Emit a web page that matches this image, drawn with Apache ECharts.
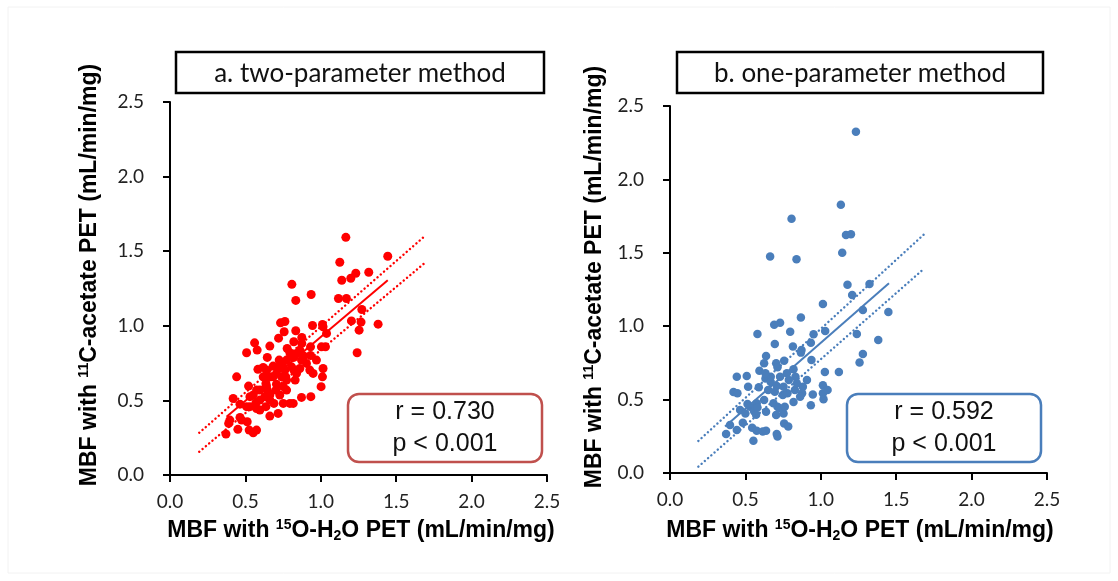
<!DOCTYPE html>
<html><head><meta charset="utf-8">
<script src="https://cdn.jsdelivr.net/npm/echarts@6/dist/echarts.min.js"></script>
<style>html,body{margin:0;padding:0;background:#fff}#c{width:1118px;height:581px}</style>
</head><body><div id="c"></div>
<script>
// ---- data (mL/min/mg) ----
const tickLabels = ['0.0','0.5','1.0','1.5','2.0','2.5'];
const titles = ['a. two-parameter method','b. one-parameter method'];
const stats = [['r = 0.730','p < 0.001'],['r = 0.592','p < 0.001']];

const twoParamX = [1.166,1.126,1.444,1.139,1.199,1.232,1.318,0.808,
0.936,0.834,1.117,1.170,1.272,1.203,1.267,1.380,0.945,1.011,0.733,0.762,0.757,0.834,0.720,0.561,0.662,0.578,0.508,0.821,0.874,0.874,1.015,1.038,1.031,1.004,0.932,1.241,1.254,0.777,0.795,0.839,0.645,0.724,0.773,0.618,0.583,0.684,0.746,0.821,0.887,0.861,0.927,0.949,1.015,1.011,1.002,0.830,0.768,0.442,0.521,0.618,0.636,0.645,0.574,0.530,0.419,0.464,0.596,0.662,0.728,0.773,0.706,0.795,0.817,0.872,0.934,0.689,0.574,0.636,0.662,0.717,0.397,0.464,0.512,0.389,0.371,0.450,0.525,0.574,0.552,0.706,0.684,0.667,0.640,0.751,0.530,0.596,0.552,0.629,0.751,0.806,0.861,0.872,0.821,0.762,0.717,0.640,0.629,0.702,0.596,0.773,0.839,0.905,0.971,0.932,0.740,0.662,0.570,0.508,0.475];
const twoParamY = [1.593,1.426,1.466,1.305,1.319,1.352,1.359,1.278,
1.210,1.170,1.183,1.183,1.109,1.033,1.025,1.011,1.002,1.009,1.020,1.029,0.960,0.967,0.917,0.886,0.864,0.837,0.819,0.893,0.922,0.882,0.993,0.949,0.859,0.859,0.801,0.819,0.971,0.848,0.819,0.815,0.788,0.770,0.770,0.721,0.708,0.730,0.748,0.788,0.797,0.714,0.703,0.681,0.714,0.658,0.592,0.636,0.658,0.658,0.596,0.658,0.614,0.569,0.569,0.525,0.513,0.475,0.502,0.536,0.536,0.569,0.609,0.480,0.480,0.520,0.525,0.480,0.446,0.458,0.395,0.413,0.368,0.386,0.357,0.346,0.275,0.306,0.301,0.301,0.283,0.681,0.658,0.658,0.596,0.592,0.458,0.435,0.536,0.525,0.480,0.725,0.837,0.770,0.703,0.703,0.721,0.703,0.658,0.569,0.569,0.636,0.681,0.748,0.770,0.859,0.658,0.502,0.484,0.458,0.368];

const oneParamX = [1.233,1.133,0.806,1.167,1.200,0.664,0.839,1.142,1.177,1.323,
1.208,1.014,1.279,1.448,0.868,0.730,0.691,0.580,0.797,0.952,1.029,1.239,1.381,0.695,0.815,0.934,0.872,0.868,1.279,1.257,0.938,0.637,0.624,0.704,0.713,0.757,0.819,0.832,1.027,1.120,0.443,0.509,0.593,0.633,0.668,0.708,0.753,0.788,0.881,0.876,0.947,1.014,1.014,1.045,1.018,0.421,0.447,0.518,0.589,0.651,0.695,0.748,0.779,0.819,0.686,0.713,0.624,0.575,0.531,0.465,0.500,0.558,0.580,0.514,0.934,0.753,0.726,0.398,0.372,0.443,0.483,0.545,0.575,0.615,0.637,0.553,0.708,0.713,0.757,0.784,0.571,0.637,0.704,0.761,0.828,0.841,0.668,0.633,0.730,0.775,0.863,0.908];
const oneParamY = [2.325,1.828,1.732,1.621,1.626,1.474,1.456,1.501,1.283,1.287,
1.213,1.151,1.110,1.097,1.060,1.024,1.010,0.947,0.963,0.945,0.967,0.947,0.906,0.879,0.861,0.888,0.838,0.820,0.811,0.752,0.770,0.797,0.747,0.747,0.720,0.765,0.706,0.656,0.688,0.688,0.656,0.661,0.697,0.643,0.620,0.593,0.588,0.634,0.588,0.543,0.534,0.597,0.543,0.565,0.502,0.552,0.543,0.588,0.584,0.565,0.554,0.531,0.543,0.484,0.475,0.452,0.497,0.475,0.452,0.429,0.406,0.420,0.447,0.470,0.461,0.406,0.441,0.327,0.266,0.293,0.343,0.309,0.288,0.282,0.288,0.220,0.266,0.248,0.338,0.316,0.397,0.418,0.395,0.452,0.565,0.611,0.656,0.679,0.656,0.679,0.520,0.634];

// regression line and dotted bounds: [x, y] end points
const twoFit = [[0.375,0.390],[1.444,1.305]];
const twoUpper = [[0.194,0.283],[1.695,1.606]];
const twoLower = [[0.194,0.156],[1.695,1.426]];
const oneFit = [[0.365,0.316],[1.452,1.292]];
const oneUpper = [[0.188,0.218],[1.687,1.628]];
const oneLower = [[0.188,0.043],[1.687,1.394]];

const RED = '#FF0000', BLUE = '#4A7EBB';
const zip = (a,b) => a.map((v,i)=>[v,b[i]]);

const chart = echarts.init(document.getElementById('c'), null, {renderer:'canvas'});

function axis(gridIndex, isX){
  return {
    type:'value', gridIndex, min:0, max:2.5, interval:0.5,
    axisLine:{show:true, onZero:false, lineStyle:{color:'#000', width:2}},
    axisTick:{show:true, length:7, inside:false, lineStyle:{color:'#000', width:2}},
    splitLine:{show:false},
    axisLabel:{color:'#222', fontFamily:'Lato', fontSize:19, margin: isX?17:26,
      formatter: v => tickLabels[Math.round(v/0.5)]}
  };
}
function lineS(idx, data, color, dotted){
  return {type:'line', xAxisIndex:idx, yAxisIndex:idx, data, symbol:'none', silent:true,
    lineStyle:{color, width: dotted?2.4:2, type: dotted?[0.1,4.2]:'solid', cap: dotted?'round':'butt'}, z:3};
}
const richX = {
  b:{fontFamily:'Liberation Sans', fontWeight:'bold', fontSize:23, fill:'#000'},
  sup:{fontFamily:'Liberation Sans', fontWeight:'bold', fontSize:14, fill:'#000', padding:[0,0,11,0]},
  sub:{fontFamily:'Liberation Sans', fontWeight:'bold', fontSize:14, fill:'#000', padding:[10,0,0,0]}
};
const xTitle = '{b|MBF with }{sup|15}{b|O-H}{sub|2}{b|O PET (mL/min/mg)}';
const yTitle = '{b|MBF with }{sup|11}{b|C-acetate PET (mL/min/mg)}';

function txt(x,y,text,rot){
  return {type:'text', x, y, rotation: rot||0, silent:true,
    style:{text, rich:richX, align:'center', verticalAlign:'middle', fill:'#000'}};
}
function statBox(x,y,w,h,color,lines){
  return [
    {type:'rect', shape:{x,y,width:w,height:h,r:11}, style:{fill:'#fff', stroke:color, lineWidth:2.5}, z:10},
    {type:'text', x:x+w/2, y:y+h/2, z:11, style:{text:lines.join('\n'), align:'center', verticalAlign:'middle',
      fontFamily:'Liberation Sans', fontSize:25, lineHeight:32, fill:'#111'}}
  ];
}
function titleBox(x,y,w,h,label){
  return [
    {type:'rect', shape:{x,y,width:w,height:h}, style:{fill:'#fff', stroke:'#000', lineWidth:2.5}},
    {type:'text', x:x+w/2, y:y+h/2+1, style:{text:label, align:'center', verticalAlign:'middle',
      fontFamily:'Lato', fontSize:26, fill:'#111'}}
  ];
}

chart.setOption({
  animation:false,
  backgroundColor:'#fff',
  grid:[
    {left:170, top:102, width:377, height:373},
    {left:670, top:106, width:377, height:367}
  ],
  xAxis:[axis(0,true), axis(1,true)],
  yAxis:[axis(0,false), axis(1,false)],
  series:[
    {type:'scatter', xAxisIndex:0, yAxisIndex:0, data:zip(twoParamX,twoParamY), symbolSize:9, itemStyle:{color:RED, opacity:1}, z:2},
    lineS(0, twoFit, RED, false), lineS(0, twoUpper, RED, true), lineS(0, twoLower, RED, true),
    {type:'scatter', xAxisIndex:1, yAxisIndex:1, data:zip(oneParamX,oneParamY), symbolSize:8.5, itemStyle:{color:BLUE, opacity:1}, z:2},
    lineS(1, oneFit, BLUE, false), lineS(1, oneUpper, BLUE, true), lineS(1, oneLower, BLUE, true)
  ],
  graphic:[
    {type:'rect', shape:{x:8,y:7,width:1102,height:566}, style:{fill:'none', stroke:'#f2f2f2', lineWidth:1}, silent:true},
    ...titleBox(176,52,368,41,titles[0]),
    ...titleBox(677,52,366,41,titles[1]),
    ...statBox(348,394,194,68,'#C0504D',stats[0]),
    ...statBox(847,394,194,68,BLUE,stats[1]),
    txt(361,531,xTitle), txt(860,531,xTitle),
    txt(90,275,yTitle,Math.PI/2), txt(595,277,yTitle,Math.PI/2)
  ]
});
</script></body></html>
